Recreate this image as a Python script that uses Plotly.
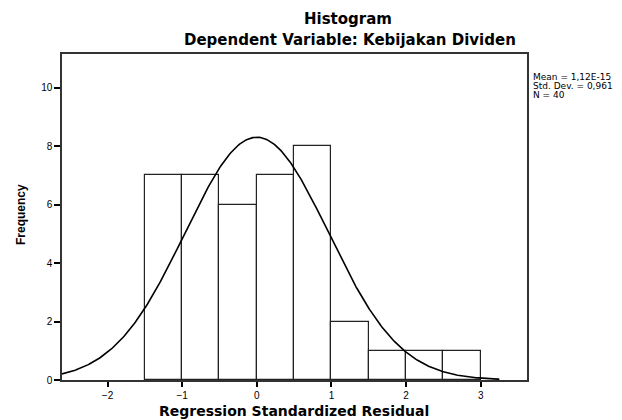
import numpy as np
import plotly.graph_objects as go

# Data
bin_centers = [-1.25, -0.75, -0.25, 0.25, 0.75, 1.25, 1.75, 2.25, 2.75]
counts = [7, 7, 6, 7, 8, 2, 1, 1, 1]
bin_width = 0.5
mean_val = 1.12e-15
std_dev = 0.961
n_obs = 40
x_ticks = [-2, -1, 0, 1, 2, 3]
y_ticks = [0, 2, 4, 6, 8, 10]
stats_lines = ["Mean = 1,12E-15", "Std. Dev. = 0,961", "N = 40"]

W, H = 622, 420
L, R, T, B = 62, 95, 54, 40
PW, PH = W - L - R, H - T - B


def px(x):
    return (x - L) / PW


def py(y):
    return (H - y - B) / PH


fig = go.Figure()
fig.add_trace(go.Bar(
    x=bin_centers, y=counts, width=bin_width,
    marker=dict(color="white", line=dict(color="#222", width=1.2)),
    hoverinfo="x+y", showlegend=False,
))

# Fitted normal curve from the stated mean / std. dev.
xs = np.linspace(-2.61, 3.25, 400)
ys = n_obs * bin_width / (std_dev * np.sqrt(2 * np.pi)) * np.exp(-0.5 * ((xs - mean_val) / std_dev) ** 2)
fig.add_trace(go.Scatter(x=xs, y=ys, mode="lines",
                         line=dict(color="black", width=1.6), showlegend=False, hoverinfo="skip"))

title_font = "DejaVu Sans, Verdana, sans-serif"
arial = "Liberation Sans, Arial, sans-serif"

annotations = [
    dict(text="<b>Histogram</b>", x=px(348), y=py(18.5), font=dict(size=15, family=title_font)),
    dict(text="<b>Dependent Variable: Kebijakan Dividen</b>", x=px(350), y=py(40),
         font=dict(size=15, family=title_font)),
    dict(text="<b>Regression Standardized Residual</b>", x=px(294), y=py(411),
         font=dict(size=14, family=title_font)),
    dict(text="<b>Frequency</b>", x=px(21), y=py(215), textangle=-90,
         font=dict(size=12, family=arial)),
]
for i, line in enumerate(stats_lines):
    annotations.append(dict(text=line, x=px(531), y=py(77 + 9 * i), xanchor="left",
                            font=dict(size=9, family=title_font)))
for a in annotations:
    a.update(xref="paper", yref="paper", showarrow=False)
    a.setdefault("xanchor", "center")
    a.setdefault("yanchor", "middle")

fig.update_layout(
    width=W, height=H,
    margin=dict(l=L, r=R, t=T, b=B),
    paper_bgcolor="white", plot_bgcolor="white",
    font=dict(family=arial, color="black", size=9),
    bargap=0,
    xaxis=dict(range=[-2.61, 3.62], tickvals=x_ticks, ticks="outside", ticklen=5,
               tickwidth=2, tickcolor="black", showgrid=False, zeroline=False,
               showline=True, linecolor="#333", linewidth=1.5, mirror=True,
               tickfont=dict(size=10)),
    yaxis=dict(range=[0, 11.15], tickvals=y_ticks, ticks="outside", ticklen=6,
               tickwidth=2, tickcolor="black", showgrid=False, zeroline=False,
               showline=True, linecolor="#333", linewidth=1.5, mirror=True,
               tickfont=dict(size=10)),
    annotations=annotations,
)

fig.write_html("out.html", config={"displayModeBar": False},
               post_script="document.body.style.margin='0px';")
